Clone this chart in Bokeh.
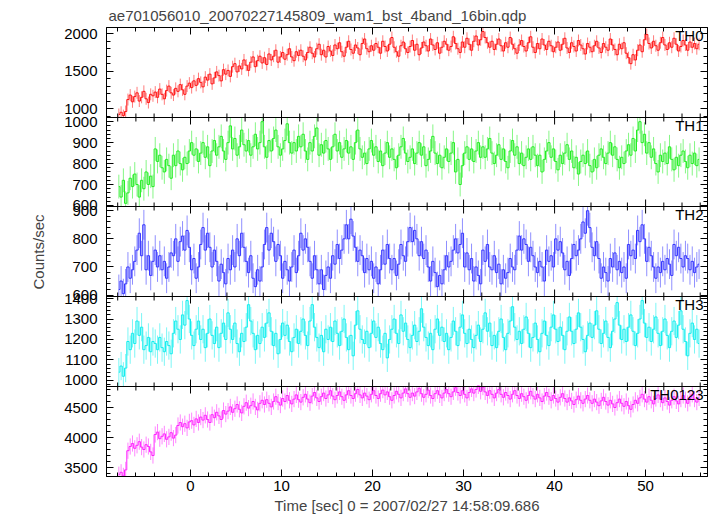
from bokeh.plotting import figure
from bokeh.models import (Range1d, LinearAxis, SingleIntervalTicker, FixedTicker, Label,
                          ColumnDataSource, CustomLabelingPolicy, Span)
from bokeh.embed import file_html
from bokeh.resources import INLINE

FONT = "Liberation Sans"
TITLE = "ae701056010_20070227145809_wam1_bst_4band_16bin.qdp"
XLABEL = "Time [sec] 0 = 2007/02/27 14:58:09.686"
YLABEL = "Counts/sec"

BIN = 0.25
T_START = -8.0
NBIN = 256
time = [T_START + BIN * (i + 0.5) for i in range(NBIN)]

th0 = [920, 950, 905, 960, 1120, 1180, 1090, 1160, 1210, 1100, 1150, 1230, 1130, 1080, 1190, 1170,
       1220, 1150, 1260, 1190, 1130, 1240, 1300, 1210, 1180, 1270, 1230, 1320, 1250, 1190, 1300, 1340,
       1280, 1370, 1310, 1400, 1350, 1290, 1420, 1380, 1460, 1330, 1410, 1490, 1440, 1370, 1520, 1460,
       1510, 1430, 1560, 1600, 1490, 1570, 1530, 1650, 1580, 1510, 1620, 1690, 1560, 1640, 1700, 1610,
       1680, 1590, 1730, 1650, 1700, 1780, 1620, 1690, 1750, 1660, 1720, 1800, 1690, 1640, 1760, 1710,
       1780, 1700, 1650, 1750, 1820, 1740, 1690, 1800, 1860, 1720, 1780, 1690, 1830, 1770, 1710, 1850,
       1800, 1880, 1760, 1700, 1820, 1900, 1790, 1740, 1850, 1810, 1720, 1870, 1930, 1800, 1760, 1840,
       1780, 1870, 1820, 1740, 1900, 1830, 1770, 1860, 1950, 1820, 1760, 1700, 1840, 1890, 1800, 1750,
       1830, 1910, 1780, 1860, 1720, 1810, 1890, 1840, 1770, 1930, 1850, 1790, 1880, 1740, 1820, 1900,
       1860, 1780, 1830, 1960, 1870, 1800, 1750, 1890, 1820, 1940, 1860, 1780, 1900, 1970, 1850, 1920,
       2030, 1950, 1880, 1820, 1900, 1790, 1860, 1930, 1840, 1770, 1880, 1820, 1950, 1860, 1800, 1740,
       1850, 1910, 1830, 1770, 1880, 1960, 1820, 1750, 1870, 1800, 1930, 1850, 1790, 1900, 1840, 1760,
       1820, 1890, 1780, 1860, 1940, 1810, 1750, 1880, 1830, 1770, 1910, 1850, 1800, 1730, 1870, 1820,
       1760, 1840, 1900, 1810, 1750, 1870, 1820, 1780, 1930, 1850, 1790, 1720, 1860, 1800, 1880, 1740,
       1680, 1600, 1720, 1650, 1780, 1850, 1760, 1920, 1990, 1870, 1810, 1900, 1840, 1780, 1880, 1950,
       1850, 1790, 1880, 1820, 1940, 1860, 1770, 1830, 1910, 1850, 1780, 1890, 1820, 1870, 1800, 1860]

th1 = [690, 640, 720, 610, 660, 730, 690, 750, 700, 640, 720, 680, 760, 700, 740, 690,
       870, 810, 840, 780, 760, 820, 790, 730, 840, 790, 860, 800, 770, 830, 800, 860,
       900, 840, 870, 810, 850, 900, 830, 880, 790, 860, 910, 840, 880, 930, 860, 820,
       900, 980, 870, 920, 840, 880, 960, 890, 860, 910, 840, 880, 940, 870, 900, 1000,
       880, 830, 910, 860, 920, 960, 880, 840, 870, 910, 990, 900, 850, 900, 860, 930,
       880, 940, 860, 820, 900, 860, 930, 970, 840, 890, 850, 910, 870, 820, 880, 940,
       860, 900, 830, 870, 910, 850, 880, 820, 900, 960, 870, 830, 850, 800, 870, 910,
       840, 880, 810, 860, 790, 850, 900, 830, 870, 820, 780, 840, 880, 920, 850, 810,
       830, 870, 800, 850, 900, 840, 880, 790, 820, 860, 930, 850, 800, 840, 780, 830,
       870, 810, 850, 900, 760, 820, 700, 790, 850, 880, 820, 870, 810, 860, 900, 830,
       880, 830, 870, 920, 850, 800, 840, 890, 820, 870, 810, 780, 860, 910, 840, 880,
       800, 850, 790, 830, 870, 820, 880, 840, 790, 840, 760, 820, 860, 900, 830, 870,
       810, 770, 840, 800, 850, 890, 820, 860, 780, 830, 750, 810, 840, 800, 860, 790,
       760, 820, 780, 840, 870, 830, 800, 850, 900, 840, 880, 820, 780, 830, 800, 860,
       890, 840, 920, 860, 960, 1000, 900, 940, 850, 900, 830, 870, 800, 760, 840, 810,
       850, 800, 880, 820, 770, 830, 790, 840, 860, 810, 780, 840, 800, 850, 790, 820]

th2 = [620, 650, 605, 640, 700, 660, 690, 720, 760, 820, 740, 850, 690, 740, 670, 720,
       760, 700, 740, 690, 720, 660, 700, 750, 740, 800, 720, 790, 810, 760, 830, 770,
       690, 730, 660, 700, 780, 840, 760, 820, 770, 700, 760, 720, 650, 710, 680, 640,
       730, 690, 760, 700, 800, 740, 820, 770, 720, 680, 740, 660, 630, 690, 650, 700,
       780, 840, 760, 820, 790, 720, 780, 740, 660, 720, 690, 650, 700, 760, 680, 740,
       820, 760, 800, 770, 720, 660, 740, 690, 640, 690, 620, 670, 700, 660, 740, 710,
       780, 730, 760, 800, 850, 800, 870, 810, 770, 720, 760, 740, 680, 730, 690, 720,
       660, 700, 640, 690, 760, 710, 780, 730, 690, 730, 670, 710, 780, 740, 720, 790,
       840, 790, 830, 800, 740, 790, 730, 760, 700, 650, 720, 680, 630, 670, 640, 690,
       740, 700, 720, 760, 800, 750, 780, 820, 700, 750, 690, 730, 650, 700, 670, 640,
       760, 720, 780, 700, 690, 740, 680, 710, 640, 690, 660, 680, 730, 700, 690, 760,
       810, 760, 800, 780, 720, 770, 740, 700, 680, 720, 700, 650, 760, 720, 740, 700,
       800, 760, 790, 750, 690, 720, 670, 730, 780, 740, 760, 800, 860, 820, 900, 840,
       770, 740, 790, 730, 660, 700, 680, 650, 730, 700, 750, 690, 720, 680, 700, 660,
       780, 740, 760, 730, 830, 790, 850, 800, 720, 770, 740, 700, 660, 700, 680, 720,
       690, 730, 710, 670, 780, 740, 770, 730, 700, 740, 730, 690, 720, 680, 700, 710]

th3 = [1040, 1070, 1020, 1060, 1190, 1150, 1230, 1180, 1290, 1220, 1260, 1150, 1170, 1210, 1140, 1190,
       1180, 1150, 1210, 1160, 1140, 1190, 1170, 1130, 1230, 1290, 1250, 1200, 1320, 1270, 1390, 1300,
       1220, 1170, 1250, 1290, 1200, 1250, 1160, 1230, 1300, 1220, 1180, 1260, 1160, 1230, 1280, 1200,
       1330, 1250, 1200, 1280, 1180, 1140, 1230, 1190, 1260, 1370, 1290, 1230, 1150, 1220, 1180, 1260,
       1210, 1280, 1330, 1240, 1170, 1230, 1130, 1200, 1280, 1220, 1270, 1190, 1140, 1210, 1250, 1180,
       1240, 1300, 1220, 1170, 1290, 1370, 1260, 1210, 1160, 1220, 1140, 1250, 1200, 1260, 1190, 1290,
       1230, 1170, 1240, 1300, 1210, 1150, 1220, 1120, 1270, 1340, 1250, 1200, 1180, 1240, 1160, 1230,
       1290, 1210, 1260, 1180, 1150, 1230, 1110, 1200, 1250, 1300, 1230, 1180, 1320, 1240, 1280, 1200,
       1160, 1220, 1270, 1190, 1240, 1350, 1260, 1210, 1170, 1230, 1150, 1250, 1300, 1220, 1260, 1190,
       1230, 1150, 1210, 1290, 1240, 1170, 1260, 1320, 1230, 1180, 1250, 1200, 1160, 1220, 1270, 1190,
       1250, 1330, 1240, 1280, 1170, 1220, 1160, 1240, 1300, 1210, 1150, 1230, 1290, 1360, 1260, 1200,
       1240, 1180, 1250, 1310, 1230, 1160, 1210, 1280, 1200, 1140, 1230, 1290, 1220, 1170, 1260, 1320,
       1250, 1190, 1260, 1220, 1150, 1240, 1310, 1240, 1180, 1250, 1330, 1260, 1200, 1140, 1220, 1280,
       1210, 1270, 1340, 1250, 1180, 1230, 1290, 1210, 1160, 1240, 1300, 1380, 1270, 1200, 1250, 1190,
       1260, 1320, 1240, 1170, 1230, 1300, 1390, 1280, 1210, 1260, 1190, 1250, 1310, 1230, 1170, 1240,
       1300, 1220, 1160, 1240, 1290, 1210, 1270, 1340, 1250, 1190, 1120, 1230, 1280, 1200, 1250, 1180]

th0123 = [3380, 3420, 3360, 3460, 3780, 3850, 3900, 3820, 3870, 3930, 3840, 3800, 3880, 3850, 3760, 3700,
          4050, 4090, 3980, 4020, 4060, 3970, 4010, 4080, 3990, 4040, 4200, 4250, 4180, 4230, 4160, 4260,
          4280, 4210, 4310, 4250, 4340, 4290, 4370, 4300, 4250, 4380, 4330, 4420, 4360, 4300, 4450, 4390,
          4440, 4510, 4420, 4480, 4550, 4470, 4410, 4520, 4580, 4490, 4530, 4600, 4510, 4460, 4570, 4620,
          4550, 4630, 4570, 4510, 4600, 4680, 4590, 4540, 4650, 4600, 4700, 4620, 4560, 4640, 4710, 4630,
          4590, 4670, 4720, 4640, 4580, 4690, 4750, 4660, 4600, 4680, 4740, 4650, 4710, 4780, 4690, 4630,
          4700, 4760, 4680, 4620, 4710, 4780, 4700, 4650, 4730, 4800, 4710, 4660, 4740, 4690, 4630, 4720,
          4780, 4700, 4650, 4730, 4790, 4710, 4760, 4680, 4620, 4700, 4770, 4720, 4660, 4740, 4810, 4730,
          4670, 4740, 4690, 4760, 4820, 4730, 4670, 4720, 4790, 4700, 4650, 4730, 4780, 4710, 4660, 4740,
          4800, 4730, 4680, 4760, 4830, 4750, 4700, 4780, 4720, 4660, 4750, 4810, 4740, 4800, 4860, 4770,
          4840, 4760, 4700, 4780, 4720, 4660, 4740, 4800, 4720, 4670, 4750, 4700, 4640, 4720, 4780, 4700,
          4650, 4730, 4680, 4620, 4700, 4770, 4690, 4640, 4720, 4660, 4600, 4690, 4750, 4680, 4620, 4700,
          4650, 4590, 4670, 4730, 4650, 4590, 4660, 4610, 4550, 4630, 4690, 4620, 4570, 4640, 4700, 4620,
          4570, 4640, 4590, 4530, 4610, 4670, 4600, 4540, 4620, 4560, 4500, 4580, 4640, 4570, 4520, 4600,
          4530, 4470, 4550, 4620, 4570, 4660, 4720, 4640, 4590, 4680, 4620, 4560, 4650, 4710, 4640, 4580,
          4660, 4600, 4540, 4620, 4680, 4610, 4560, 4640, 4700, 4630, 4570, 4650, 4720, 4640, 4590, 4660]

names = ["TH0", "TH1", "TH2", "TH3", "TH0123"]
series = [th0, th1, th2, th3, th0123]
errors = [80, 57, 53, 69, 135]
colors = ["#ff1111", "#22ee22", "#3333ff", "#11eeee", "#ff22ff"]
yranges = [(880, 2084), (595, 1020), (595, 915), (970, 1410), (3350, 4850)]
yticks = [500, 100, 100, 100, 500]
frame_heights = [90, 89, 90, 90, 90]

X_START, X_END = -9.23, 56.8
X_MAJOR, X_MINOR = 10, 2
FRAME_W = 601
H = sum(frame_heights)
MAJ_LEN, MIN_LEN = 7, 4

# band of each panel, in pixels from the frame bottom
tops, bots = [], []
acc = H
for h in frame_heights:
    tops.append(acc)
    bots.append(acc - h)
    acc -= h

HIDE_ALL = CustomLabelingPolicy(code="""
try {
  const n = indices.size;
  for (let i = 0; i < n; i++) { indices.unset(i); }
} catch (e) {}
return indices;
""")

p = figure(frame_width=FRAME_W, frame_height=H,
           x_range=Range1d(X_START, X_END), y_range=Range1d(0, H),
           x_axis_type=None, y_axis_type=None,
           output_backend="svg", toolbar_location=None,
           min_border_left=106, min_border_right=8,
           min_border_top=27, min_border_bottom=0, title=TITLE)
p.outline_line_color = "black"
p.background_fill_color = "white"
p.border_fill_color = "white"
p.title.text_font = FONT
p.title.text_font_size = "15px"
p.title.text_font_style = "normal"
p.title.align = "left"
p.title.offset = 2
p.title.standoff = 7


def style_axis(ax, show_labels, standoff):
    ax.major_tick_in = MAJ_LEN
    ax.major_tick_out = 0
    ax.minor_tick_in = MIN_LEN
    ax.minor_tick_out = 0
    ax.axis_line_color = "black"
    ax.major_tick_line_color = "black"
    ax.minor_tick_line_color = "black"
    if show_labels:
        ax.major_label_text_font = FONT
        ax.major_label_text_font_size = "15px"
        ax.major_label_text_color = "black"
        ax.major_label_standoff = standoff
    else:
        ax.major_label_text_font_size = "0px"
        ax.major_label_standoff = 0
        ax.major_label_policy = HIDE_ALL


# y ticks of all panels, placed in the shared pixel space
y_major, y_minor, y_labels = [], [], {}
for k in range(len(names)):
    lo, hi = yranges[k]
    step = yticks[k]
    sub = step // 5
    per_px = (hi - lo) / frame_heights[k]
    v = -(-lo // sub) * sub
    while v <= hi:
        pos = bots[k] + (v - lo) / per_px
        if v % step == 0:
            y_major.append(pos)
            y_labels[pos] = str(v)
        else:
            y_minor.append(pos)
        v += sub

x_ticker = SingleIntervalTicker(interval=X_MAJOR, num_minor_ticks=X_MAJOR // X_MINOR)
y_ticker = FixedTicker(ticks=y_major, minor_ticks=y_minor)

ax_b = LinearAxis(ticker=x_ticker)
style_axis(ax_b, True, 4)
ax_b.axis_label = XLABEL
ax_b.axis_label_text_font = FONT
ax_b.axis_label_text_font_size = "15px"
ax_b.axis_label_text_font_style = "normal"
ax_b.axis_label_standoff = 3
p.add_layout(ax_b, "below")

ax_t = LinearAxis(ticker=x_ticker)
style_axis(ax_t, False, 0)
p.add_layout(ax_t, "above")

ax_l = LinearAxis(ticker=y_ticker)
style_axis(ax_l, True, 9)
ax_l.major_label_overrides = y_labels
ax_l.axis_label = YLABEL
ax_l.axis_label_text_font = FONT
ax_l.axis_label_text_font_size = "15px"
ax_l.axis_label_text_font_style = "normal"
ax_l.axis_label_standoff = 14
p.add_layout(ax_l, "left")

ax_r = LinearAxis(ticker=y_ticker)
style_axis(ax_r, False, 0)
p.add_layout(ax_r, "right")

# panel separators with inward x ticks on both sides
tx_major = [t for t in range(-100, 101, X_MAJOR) if X_START <= t <= X_END]
tx_minor = [t for t in range(-100, 101, X_MINOR) if X_START <= t <= X_END and t % X_MAJOR != 0]
sx0, sy0, sy1 = [], [], []
for b in bots[:-1]:
    p.add_layout(Span(location=b, dimension="width", line_color="black", line_width=1))
    for tl, length in ((tx_major, MAJ_LEN), (tx_minor, MIN_LEN)):
        for t in tl:
            sx0.append(t)
            sy0.append(b - length)
            sy1.append(b + length)
p.segment(x0=sx0, y0=sy0, x1=sx0, y1=sy1, line_color="black", line_width=1)

for k in range(len(names)):
    lo, hi = yranges[k]
    h = frame_heights[k]
    per_px = (hi - lo) / h
    rname = names[k]
    p.extra_y_ranges[rname] = Range1d(lo - bots[k] * per_px, hi + (H - tops[k]) * per_px)
    vals = series[k]
    err = errors[k]
    src = ColumnDataSource(dict(t=time, v=vals,
                                lo=[max(v - err, lo) for v in vals],
                                hi=[min(v + err, hi) for v in vals]))
    p.segment(x0="t", y0="lo", x1="t", y1="hi", source=src, y_range_name=rname,
              line_color=colors[k], line_alpha=0.55, line_width=1)
    p.step(x="t", y="v", source=src, mode="center", y_range_name=rname,
           line_color=colors[k], line_width=1)
    p.add_layout(Label(x=FRAME_W - 4, y=tops[k] + 1,
                       x_units="screen", y_units="screen",
                       text=names[k], text_align="right", text_baseline="top",
                       text_font=FONT, text_font_size="15px",
                       text_color="black"))

open("out.html", "w").write(file_html(p, INLINE))
